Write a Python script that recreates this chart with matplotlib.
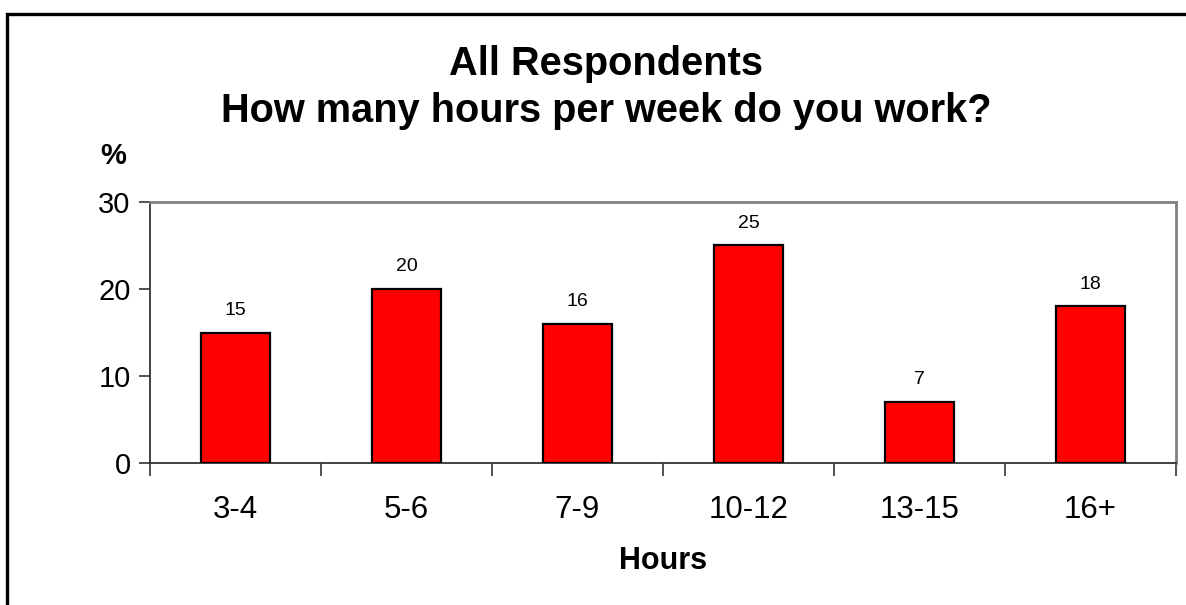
import matplotlib
matplotlib.use("Agg")
import matplotlib.pyplot as plt
from matplotlib.patches import Rectangle
from matplotlib.ticker import FixedLocator, NullFormatter

plt.rcParams['font.family'] = ['Liberation Sans', 'DejaVu Sans']

categories = ["3-4", "5-6", "7-9", "10-12", "13-15", "16+"]
values = [15, 20, 16, 25, 7, 18]
yticks = [0, 10, 20, 30]
title_lines = ["All Respondents", "How many hours per week do you work?"]
xlabel = "Hours"
ylabel = "%"

W, H = 1186, 605
fig = plt.figure(figsize=(W / 100, H / 100), dpi=100)
fig.patch.set_facecolor("white")

# outer border (top/left visible)
fig.add_artist(Rectangle((7 / W, -0.2), 1.5, (1 - 14 / H) + 0.2, transform=fig.transFigure,
                         fill=False, edgecolor="black", linewidth=2.4, clip_on=False))

left, right, top, bottom = 150, 1176, 202, 463
ax = fig.add_axes([left / W, 1 - bottom / H, (right - left) / W, (bottom - top) / H])

x = list(range(len(categories)))
ax.bar(x, values, width=0.4, color="#FF0000", edgecolor="black", linewidth=1.6, zorder=3)

for xi, v in zip(x, values):
    ax.annotate(str(v), (xi, v), xytext=(0, 10), textcoords="offset points",
                ha="center", va="bottom", fontsize=14)

ax.set_xlim(-0.5, len(categories) - 0.5)
ax.set_ylim(0, 30)
ax.set_yticks(yticks)
ax.set_yticklabels([str(t) for t in yticks], fontsize=21)

ax.xaxis.set_major_locator(FixedLocator([i - 0.5 for i in range(len(categories) + 1)]))
ax.xaxis.set_major_formatter(NullFormatter())
ax.xaxis.set_minor_locator(FixedLocator(x))
ax.set_xticks(x, minor=True)
ax.set_xticklabels(categories, minor=True, fontsize=22.5)
ax.tick_params(axis="x", which="minor", length=0, pad=23)
ax.tick_params(axis="x", which="major", length=9, width=1.2, color="#333333", direction="out")
ax.tick_params(axis="y", length=8, width=1.2, color="#333333", direction="out", pad=6)

for s in ["left", "bottom"]:
    ax.spines[s].set_color("#333333")
    ax.spines[s].set_linewidth(1.3)
for s in ["top", "right"]:
    ax.spines[s].set_color("#808080")
    ax.spines[s].set_linewidth(2.0)

cx = 606 / W
fig.text(cx, 1 - 75 / H, title_lines[0], ha="center", va="baseline", fontsize=28.6, fontweight="bold")
fig.text(cx, 1 - 122 / H, title_lines[1], ha="center", va="baseline", fontsize=28.6, fontweight="bold")
fig.text(113 / W, 1 - 156 / H, ylabel, ha="center", va="center", fontsize=21, fontweight="bold")
fig.text(663 / W, 1 - 561 / H, xlabel, ha="center", va="center", fontsize=22, fontweight="bold")

fig.savefig("out.png", dpi=100)
